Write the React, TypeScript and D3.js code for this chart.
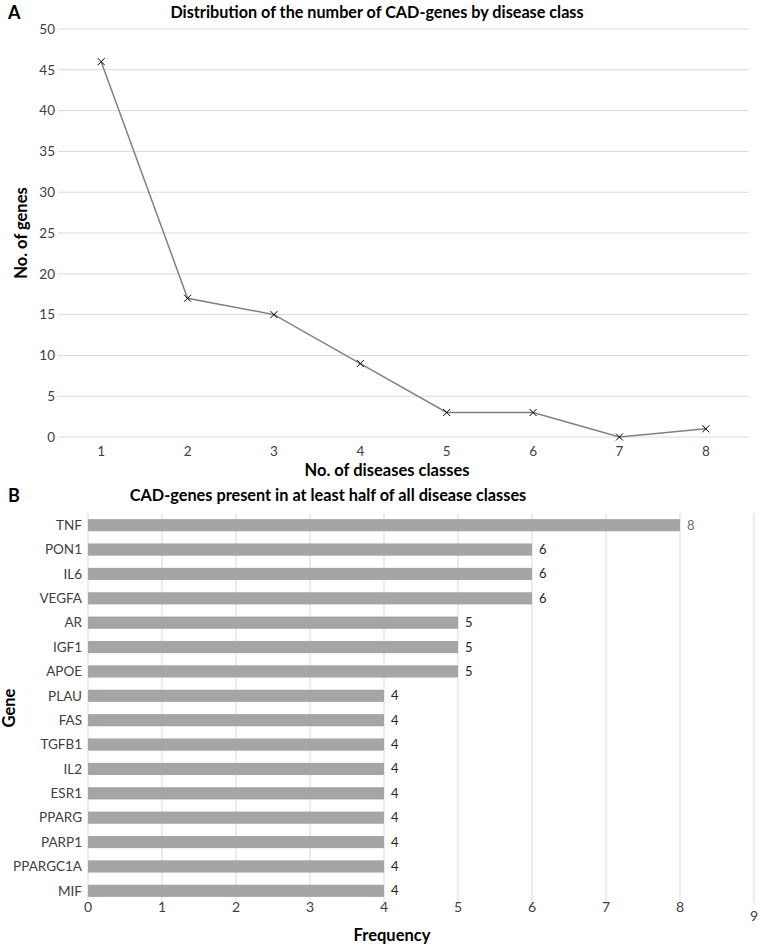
import React from "react";
import * as d3 from "d3";

const classCounts = ["1", "2", "3", "4", "5", "6", "7", "8"];
const geneCounts = [46, 17, 15, 9, 3, 3, 0, 1];
const yTicksA = [0, 5, 10, 15, 20, 25, 30, 35, 40, 45, 50];

const genes = ["TNF", "PON1", "IL6", "VEGFA", "AR", "IGF1", "APOE", "PLAU", "FAS", "TGFB1", "IL2", "ESR1", "PPARG", "PARP1", "PPARGC1A", "MIF"];
const frequencies = [8, 6, 6, 6, 5, 5, 5, 4, 4, 4, 4, 4, 4, 4, 4, 4];
const xTicksB = [0, 1, 2, 3, 4, 5, 6, 7, 8, 9];

const FONT = "Lato, 'Open Sans', sans-serif";
const GRID = "#d9d9d9";
const TEXT = "#404040";

export default function App() {
  const W = 760, H = 946;
  // Chart A
  const xA = d3.scaleBand().domain(classCounts).range([58, 749]);
  const yA = d3.scaleLinear().domain([0, 50]).range([437, 29]);
  const line = d3
    .line<number>()
    .x((_, i) => (xA(classCounts[i]) as number) + xA.bandwidth() / 2)
    .y((d) => yA(d));

  // Chart B
  const xB = d3.scaleLinear().domain([0, 9]).range([88, 754]);
  const yB = d3.scaleBand().domain(genes).range([513, 903]).paddingInner(0.5).paddingOuter(0.25);

  return (
    <svg width={W} height={H} style={{ position: "absolute", left: 0, top: 0 }} fontFamily={FONT}>
      <rect width={W} height={H} fill="#fff" />
      {/* Panel A */}
      <text x={8} y={19} fontSize={18} fontWeight="bold" fill="#000">A</text>
      <text x={377} y={18} fontSize={16.2} fontWeight="bold" textAnchor="middle" fill="#000">
        Distribution of the number of CAD-genes by disease class
      </text>
      {yTicksA.map((t) => (
        <g key={"ya" + t}>
          <line x1={58} x2={749} y1={yA(t)} y2={yA(t)} stroke={GRID} strokeWidth={1} />
          <text x={55} y={yA(t)} dy="0.35em" fontSize={13.5} textAnchor="end" fill={TEXT}>{t}</text>
        </g>
      ))}
      {classCounts.map((c) => (
        <text key={"xa" + c} x={(xA(c) as number) + xA.bandwidth() / 2} y={456} fontSize={13.5} textAnchor="middle" fill={TEXT}>{c}</text>
      ))}
      <path d={line(geneCounts) || ""} fill="none" stroke="#808080" strokeWidth={1.5} />
      {geneCounts.map((v, i) => {
        const cx = (xA(classCounts[i]) as number) + xA.bandwidth() / 2;
        const cy = yA(v);
        const s = 3.5;
        return (
          <path key={"m" + i} d={`M${cx - s},${cy - s}L${cx + s},${cy + s}M${cx - s},${cy + s}L${cx + s},${cy - s}`} stroke="#000" strokeWidth={1} />
        );
      })}
      <text x={387} y={476} fontSize={16.5} fontWeight="bold" textAnchor="middle" fill="#000">No. of diseases classes</text>
      <text transform={`translate(27,233) rotate(-90)`} fontSize={16.5} fontWeight="bold" textAnchor="middle" fill="#000">No. of genes</text>

      {/* Panel B */}
      <text x={8} y={502} fontSize={18} fontWeight="bold" fill="#000">B</text>
      <text x={328} y={501} fontSize={16.3} fontWeight="bold" textAnchor="middle" fill="#000">
        CAD-genes present in at least half of all disease classes
      </text>
      {xTicksB.map((t) => (
        <g key={"xb" + t}>
          <line x1={xB(t)} x2={xB(t)} y1={513} y2={903} stroke={GRID} strokeWidth={1} />
          <text x={xB(t)} y={t === 9 ? 921 : 912} fontSize={14} textAnchor="middle" fill={TEXT}>{t}</text>
        </g>
      ))}
      {genes.map((g, i) => (
        <g key={"bar" + g}>
          <rect x={xB(0)} y={yB(g)} width={xB(frequencies[i]) - xB(0)} height={yB.bandwidth()} fill="#a5a5a5" />
          <text x={82} y={(yB(g) as number) + yB.bandwidth() / 2} dy="0.35em" fontSize={13.5} textAnchor="end" fill={TEXT}>{g}</text>
          <text x={xB(frequencies[i]) + 7} y={(yB(g) as number) + yB.bandwidth() / 2} dy="0.35em" fontSize={13} fill={i === 0 ? "#707070" : "#262626"}>{frequencies[i]}</text>
        </g>
      ))}
      <text x={392} y={941} fontSize={16.5} fontWeight="bold" textAnchor="middle" fill="#000">Frequency</text>
      <text transform={`translate(15,708) rotate(-90)`} fontSize={16.5} fontWeight="bold" textAnchor="middle" fill="#000">Gene</text>
    </svg>
  );
}
